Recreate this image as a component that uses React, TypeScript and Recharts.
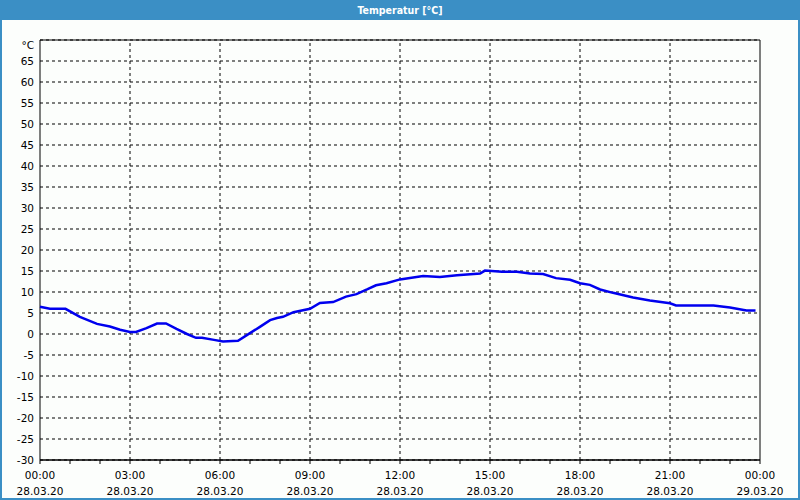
import { LineChart, Line, XAxis, YAxis, CartesianGrid, ReferenceLine, ReferenceArea } from 'recharts'

// hours since 28.03.20 00:00
const hours = [
    0, 0.33, 0.85, 1.33, 1.9, 2.33, 2.67, 3.0, 3.2, 3.55, 3.9, 4.2, 4.55, 4.9, 5.2, 5.4, 5.8, 6.1, 6.6,
    7.0, 7.33, 7.67, 7.9, 8.1, 8.45, 9.0, 9.33, 9.77, 10.2, 10.55, 10.9, 11.2, 11.55, 12.0, 12.77, 13.33,
    13.9, 14.67, 14.83, 15.4, 15.9, 16.33, 16.77, 17.2, 17.67, 18.0, 18.33, 18.67, 19.1, 19.77, 20.33,
    21.0, 21.2, 22.45, 23.0, 23.55, 23.85,
]
const temps = [
    6.5, 6.0, 6.0, 4.1, 2.4, 1.8, 1.0, 0.5, 0.5, 1.4, 2.5, 2.5, 1.2, 0.0, -0.9, -0.9, -1.4, -1.8, -1.6,
    0.2, 1.7, 3.3, 3.8, 4.1, 5.2, 6.0, 7.4, 7.6, 8.9, 9.5, 10.6, 11.6, 12.1, 13.0, 13.8, 13.6,
    14.0, 14.4, 15.1, 14.8, 14.8, 14.4, 14.3, 13.3, 12.9, 12.1, 11.7, 10.6, 9.8, 8.7, 8.0,
    7.3, 6.8, 6.8, 6.3, 5.6, 5.6,
]

const hourTicks = [0, 1, 2, 3, 4, 5, 6, 7, 8, 9, 10, 11, 12, 13, 14, 15, 16, 17, 18, 19, 20, 21, 22, 23, 24]
const majorTicks = [0, 3, 6, 9, 12, 15, 18, 21, 24]
const timeLabels = ['00:00', '03:00', '06:00', '09:00', '12:00', '15:00', '18:00', '21:00', '00:00']
const dateLabels = ['28.03.20', '28.03.20', '28.03.20', '28.03.20', '28.03.20', '28.03.20', '28.03.20', '28.03.20', '29.03.20']
const yTicks = [-30, -25, -20, -15, -10, -5, 0, 5, 10, 15, 20, 25, 30, 35, 40, 45, 50, 55, 60, 65, 70]

const data = hours.map((h, i) => ({ h, t: temps[i] }))

const FONT = '"DejaVu Sans", Tahoma, sans-serif'
const BLUE = '#3b8fc5'

function XTick(props: any) {
    const { x, y, payload } = props
    const idx = majorTicks.indexOf(payload.value)
    if (idx < 0) return null
    return (
        <g>
            <text x={x} y={y} dy={13} textAnchor="middle" fontSize={10.5} fontFamily={FONT} fill="#000">
                {timeLabels[idx]}
            </text>
            <text x={x} y={y} dy={29} textAnchor="middle" fontSize={10.5} fontFamily={FONT} fill="#000">
                {dateLabels[idx]}
            </text>
        </g>
    )
}

function YTick(props: any) {
    const { x, y, payload } = props
    const isUnit = payload.value === 70
    return (
        <text x={x} y={y} dy={isUnit ? 9 : 4} textAnchor="end" fontSize={10.5} fontFamily={FONT} fill="#000">
            {isUnit ? '°C' : payload.value}
        </text>
    )
}

export default function App() {
    return (
        <div style={{ position: 'absolute', left: 0, top: 0, width: 800, height: 500, background: '#fcfefc' }}>
            <style>{'body{margin:0}'}</style>
            <div style={{
                position: 'absolute', left: 0, top: 0, width: 800, height: 20, background: BLUE,
                color: '#fff', fontFamily: '"DejaVu Sans Condensed", "Liberation Sans", sans-serif',
                fontWeight: 'bold', fontSize: 10.5, textAlign: 'center', lineHeight: '20px',
            }}>
                Temperatur [°C]
            </div>
            <div style={{
                position: 'absolute', left: 0, top: 20, width: 796, height: 478,
                borderLeft: `2px solid ${BLUE}`, borderRight: `2px solid ${BLUE}`, borderBottom: `2px solid ${BLUE}`,
            }} />
            <div style={{ position: 'absolute', left: 0, top: 0 }}>
                <LineChart width={800} height={500} data={data} margin={{ top: 40, right: 40, bottom: 0, left: 0 }}>
                    <CartesianGrid vertical={false} stroke="#000" strokeDasharray="3 3" />
                    {majorTicks.slice(1, -1).map(v => (
                        <ReferenceLine key={v} x={v} stroke="#000" strokeDasharray="3 3" />
                    ))}
                    <XAxis
                        type="number"
                        dataKey="h"
                        domain={[0, 24]}
                        ticks={hourTicks}
                        interval={0}
                        height={40}
                        tickSize={4}
                        tickLine={{ stroke: '#000' }}
                        axisLine={{ stroke: '#000' }}
                        tick={<XTick />}
                    />
                    <YAxis
                        type="number"
                        domain={[-30, 70]}
                        ticks={yTicks}
                        interval={0}
                        width={40}
                        tickLine={false}
                        axisLine={false}
                        tickMargin={0}
                        tick={<YTick />}
                    />
                    <ReferenceArea x1={0} x2={24} y1={-30} y2={70} fill="none" stroke="#000" strokeWidth={1} />
                    <Line
                        type="linear"
                        dataKey="t"
                        stroke="#0000ee"
                        strokeWidth={2.5}
                        dot={false}
                        isAnimationActive={false}
                    />
                </LineChart>
            </div>
        </div>
    )
}
